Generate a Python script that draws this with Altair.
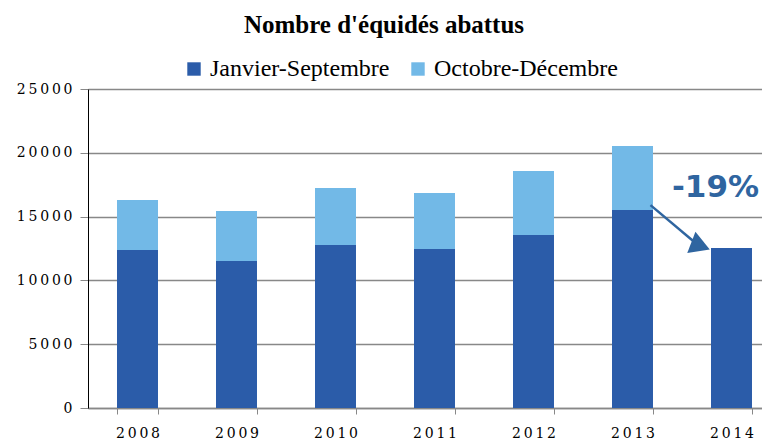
import altair as alt
import pandas as pd

years = ["2008", "2009", "2010", "2011", "2012", "2013", "2014"]
series = ["Janvier-Septembre", "Octobre-Décembre"]
jan_sep = [12380, 11520, 12770, 12460, 13560, 15520, 12540]
oct_dec = [3920, 3920, 4470, 4390, 5010, 5010, None]
colors = ["#2B5CA9", "#72B9E7"]

# annotation
arrow_from_year, arrow_to_year = "2013", "2014"
arrow_from_val, arrow_to_val = 15900, 12540
label_text = "-19%"
label_val = 17240

rows = []
for i, y in enumerate(years):
    rows.append({"year": y, "period": series[0], "value": jan_sep[i], "ord": 0})
    if oct_dec[i] is not None:
        rows.append({"year": y, "period": series[1], "value": oct_dec[i], "ord": 1})
df = pd.DataFrame(rows)

spaced = "replace(datum.label, regexp('(\\\\d)(?=\\\\d)', 'g'), '$1\u2009')"

xscale = alt.Scale(domain=years, range=[0, 693], paddingInner=0.586, paddingOuter=0.293)
yscale = alt.Scale(domain=[0, 25000])

bars = alt.Chart(df).mark_bar().encode(
    x=alt.X("year:N", scale=xscale, sort=years,
            axis=alt.Axis(title=None, labelAngle=0, tickBand="extent", tickSize=6,
                          labelPadding=12, domainColor="#888888", domainWidth=1.5,
                          tickColor="#888888", labelFont="DejaVu Serif", labelFontSize=14,
                          labelColor="#000000", grid=False, labelExpr=spaced)),
    y=alt.Y("value:Q", stack="zero", scale=yscale,
            axis=alt.Axis(title=None, values=[0, 5000, 10000, 15000, 20000, 25000], format="d",
                          domainColor="#000000", tickColor="#888888", tickSize=8,
                          labelPadding=8, labelFont="DejaVu Serif", labelFontSize=14,
                          labelColor="#000000", gridColor="#888888", gridWidth=1.3,
                          labelExpr=spaced)),
    color=alt.Color("period:N", scale=alt.Scale(domain=series, range=colors),
                    legend=alt.Legend(title=None, orient="none", direction="horizontal",
                                      legendX=94, legendY=-32, symbolType="square",
                                      symbolSize=180, symbolStrokeWidth=0,
                                      labelFont="Liberation Serif", labelFontSize=24,
                                      labelColor="#000000", columnPadding=16,
                                      labelLimit=0, symbolOffset=0, labelOffset=4)),
    order=alt.Order("ord:Q"),
)

arrow_df = pd.DataFrame([{"x": arrow_from_year, "x2": arrow_to_year,
                          "y": arrow_from_val, "y2": arrow_to_val}])
rule = alt.Chart(arrow_df).mark_rule(xOffset=18, x2Offset=-30, strokeWidth=2.5,
                                     color="#2F65A0").encode(
    x=alt.X("x:N", scale=xscale, sort=years), x2="x2:N",
    y=alt.Y("y:Q", scale=yscale), y2="y2:Q")

head_df = pd.DataFrame([{"x": arrow_to_year, "y": arrow_to_val + 250}])
head = alt.Chart(head_df).mark_point(shape="triangle", filled=True, size=520, angle=111,
                                     xOffset=-34, opacity=1, color="#2F65A0").encode(
    x=alt.X("x:N", scale=xscale, sort=years), y=alt.Y("y:Q", scale=yscale))

text_df = pd.DataFrame([{"x": arrow_to_year, "y": label_val, "t": label_text}])
text = alt.Chart(text_df).mark_text(font="DejaVu Sans", fontWeight="bold", fontSize=31,
                                    color="#2F65A0", xOffset=-16).encode(
    x=alt.X("x:N", scale=xscale, sort=years), y=alt.Y("y:Q", scale=yscale), text="t:N")

chart = alt.layer(bars, rule, head, text).properties(
    width=674, height=319,
    autosize=alt.AutoSizeParams(type="none"),
    padding={"left": 80, "top": 81, "right": 0, "bottom": 32},
    title=alt.Title("Nombre d'équidés abattus", font="Liberation Serif", fontSize=25,
                    fontWeight="bold", anchor="middle", dx=-41, offset=19, color="#000000"),
).configure_view(stroke=None)

chart.save("out.html", embed_options={"renderer": "svg", "actions": False})
